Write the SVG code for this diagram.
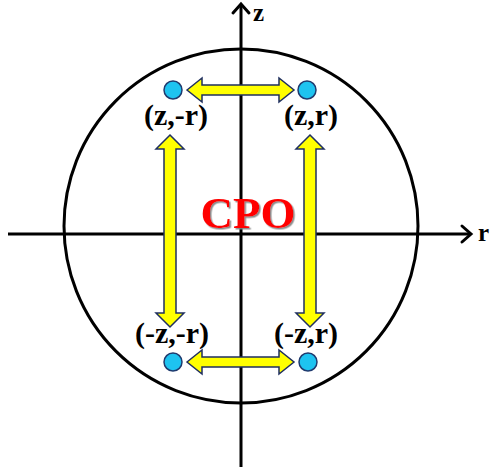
<svg xmlns="http://www.w3.org/2000/svg" width="491" height="467" viewBox="0 0 491 467">
<defs>
<style>
.ax{stroke:#000;stroke-width:3;fill:none}
.chev{stroke:#000;stroke-width:3;fill:none;stroke-linecap:round;stroke-linejoin:miter}
.lbl{font-size:30px;fill:#000;text-anchor:middle;font-weight:bold}
.axl{font-size:25px;fill:#000;font-weight:bold}
.dot{fill:#1EC3F0;stroke:#1F3A6E;stroke-width:1.5}
.arr{fill:#FFFF00;stroke:#1F2F5F;stroke-width:1.5;stroke-linejoin:miter}
.cpo{font-size:45px;text-anchor:middle;fill:#FF0000;font-weight:bold}
</style>
<filter id="shadow" x="-10%" y="-10%" width="130%" height="130%">
<feDropShadow dx="1.5" dy="1.5" stdDeviation="0.6" flood-color="#808080" flood-opacity="0.9"/>
</filter>
</defs>
<rect width="491" height="467" fill="#fff"/>
<g id="boundary">
<circle cx="241" cy="226" r="177" class="ax"/>
</g>
<g id="axes">
<line x1="8" y1="234" x2="470" y2="234" class="ax"/>
<polyline points="462,226 471,234 462,242" class="chev"/>
<line x1="241" y1="5" x2="241" y2="467" class="ax"/>
<polyline points="233,13 241,4 249,13" class="chev"/>
<text x="253" y="21" class="axl" font-family="Liberation Serif, DejaVu Serif, serif">z</text>
<text x="478" y="241" class="axl" font-family="Liberation Serif, DejaVu Serif, serif">r</text>
</g>
<g id="connectors">
<path class="arr" d="M187,90 L202,78 L202,85 L279,85 L279,78 L294,90 L279,102 L279,95 L202,95 L202,102 Z"/>
<path class="arr" d="M187,362 L202,350 L202,357 L279,357 L279,350 L294,362 L279,374 L279,367 L202,367 L202,374 Z"/>
<path class="arr" d="M170,135 L184,149 L176,149 L176,313 L184,313 L170,327 L156,313 L164,313 L164,149 L156,149 Z"/>
<path class="arr" d="M310,135 L324,149 L316,149 L316,313 L324,313 L310,327 L296,313 L304,313 L304,149 L296,149 Z"/>
</g>
<g id="node-z-minus-r">
<circle cx="173" cy="90" r="9" class="dot"/>
<text x="176" y="125" class="lbl" font-family="Liberation Serif, DejaVu Serif, serif">(z,-r)</text>
</g>
<g id="node-z-r">
<circle cx="307" cy="90" r="9" class="dot"/>
<text x="311" y="125" class="lbl" font-family="Liberation Serif, DejaVu Serif, serif">(z,r)</text>
</g>
<g id="node-mz-mr">
<circle cx="173" cy="362" r="9" class="dot"/>
<text x="172" y="343" class="lbl" font-family="Liberation Serif, DejaVu Serif, serif">(-z,-r)</text>
</g>
<g id="node-mz-r">
<circle cx="308" cy="362" r="9" class="dot"/>
<text x="306" y="343" class="lbl" font-family="Liberation Serif, DejaVu Serif, serif">(-z,r)</text>
</g>
<g id="cpo">
<text x="248" y="228" class="cpo" font-family="Liberation Serif, DejaVu Serif, serif" filter="url(#shadow)">CPO</text>
</g>
</svg>
